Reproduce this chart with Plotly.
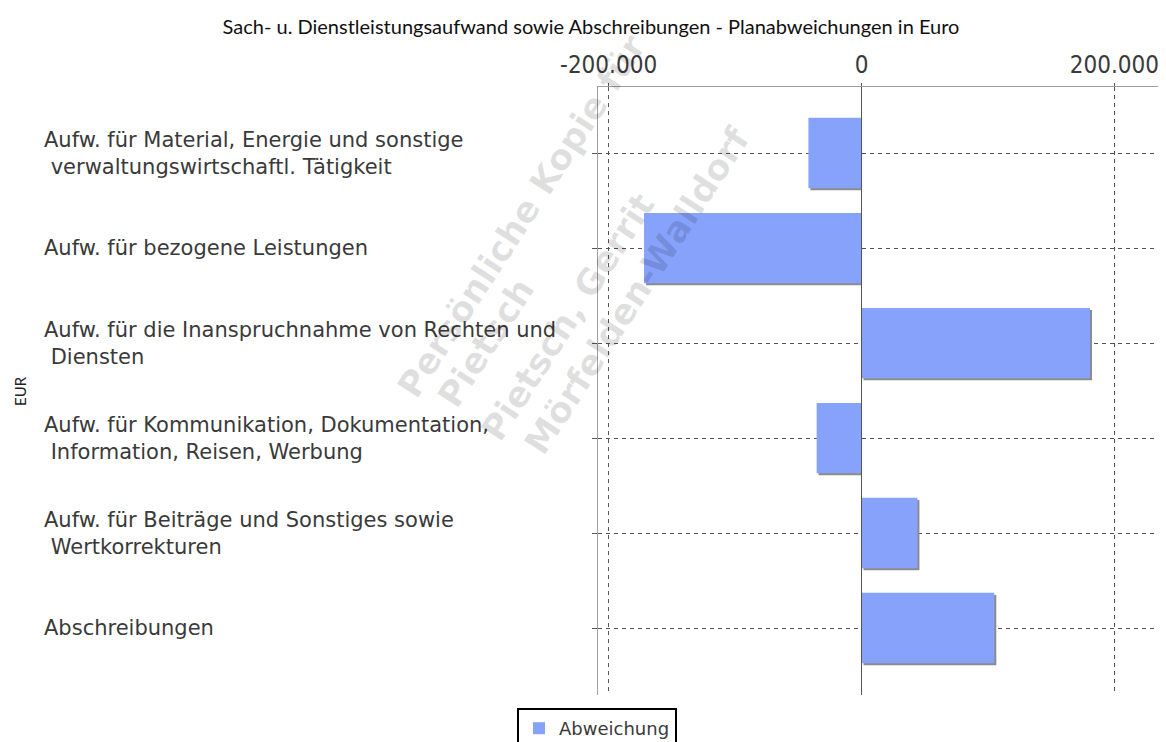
import plotly.graph_objects as go

# ---------------- data ----------------
categories = [
    "Aufw. für Material, Energie und sonstige<br>\u00a0verwaltungswirtschaftl. Tätigkeit",
    "Aufw. für bezogene Leistungen",
    "Aufw. für die Inanspruchnahme von Rechten und<br>\u00a0Diensten",
    "Aufw. für Kommunikation, Dokumentation,<br>\u00a0Information, Reisen, Werbung",
    "Aufw. für Beiträge und Sonstiges sowie<br>\u00a0Wertkorrekturen",
    "Abschreibungen",
]
values = [-42000, -172000, 180700, -35500, 44200, 105000]
tick_vals = [-200000, 0, 200000]
tick_text = ["-200.000", "0", "200.000"]
series_name = "Abweichung"
title_text = "Sach- u. Dienstleistungsaufwand sowie Abschreibungen - Planabweichungen in Euro"
axis_title = "EUR"
watermark_lines = ["Persönliche Kopie für", "Pietsch", "Pietsch, Gerrit", "Mörfelden-Walldorf"]

# ---------------- layout geometry (page pixels -> figure) ----------------
OFF = 8                      # browser body margin
W, H = 1166 - OFF, 742 - OFF
ML, MR = 598 - OFF, 0
MT = 87 - OFF
MB = H - (695 - OFF)
PW, PH = W - ML - MR, H - MT - MB

def px_x(px):
    return (px - OFF - ML) / PW

def px_y(py):
    return (H - MB - (py - OFF)) / PH

FONT = "DejaVu Sans, sans-serif"
TXT = "#3a3a3a"
BAR = "#87a2fb"
SHADOW = "#8c8c8c"

idx = list(range(len(categories)))
bw = 0.74
dy = 0.022
sx = 1600

fig = go.Figure()

# drop shadow
fig.add_trace(go.Bar(
    y=idx,
    x=[v + sx if v < 0 else v for v in values],
    base=[0 if v < 0 else sx for v in values],
    orientation="h",
    width=bw,
    offset=-bw / 2 + dy,
    marker=dict(color=SHADOW, line=dict(width=0)),
    showlegend=False,
    hoverinfo="skip",
))

# main bars
fig.add_trace(go.Bar(
    y=idx,
    x=values,
    orientation="h",
    width=bw,
    offset=-bw / 2,
    name=series_name,
    marker=dict(color=BAR, line=dict(width=0)),
))

# category labels (left aligned)
for i, c in zip(idx, categories):
    fig.add_annotation(
        x=px_x(42), xref="paper", y=i, yref="y",
        text=c, showarrow=False, xanchor="left", yanchor="middle", align="left",
        font=dict(family=FONT, size=21, color=TXT),
    )

# y-axis title
fig.add_annotation(
    x=px_x(20), xref="paper", y=0.5, yref="paper",
    text=axis_title, showarrow=False, textangle=-90,
    xanchor="center", yanchor="middle",
    font=dict(family="Lato, sans-serif", size=15, color="#222"),
)

# watermark
wm_centers = [(522, 216), (486, 343), (568, 317), (637, 291)]
for t, (cx, cy) in zip(watermark_lines, wm_centers):
    fig.add_annotation(
        x=px_x(cx), xref="paper", y=px_y(cy), yref="paper",
        text="<b>" + t + "</b>", showarrow=False, textangle=-57,
        xanchor="center", yanchor="middle",
        font=dict(family="DejaVu Sans, sans-serif", size=35, color="rgba(0,0,0,0.12)"),
    )

# zero line drawn above bars
fig.add_shape(type="line", xref="x", yref="paper", x0=0, x1=0, y0=0, y1=1,
              line=dict(color="#555555", width=1), layer="above")

fig.update_layout(
    width=W, height=H,
    margin=dict(l=ML, r=MR, t=MT, b=MB, pad=0, autoexpand=False),
    paper_bgcolor="white", plot_bgcolor="white",
    barmode="overlay",
    title=dict(text=title_text, x=(591 - OFF) / W, xanchor="center",
               y=1 - (27 - OFF) / H, yanchor="middle",
               font=dict(family="Lato, sans-serif", size=20, color="#111")),
    showlegend=True,
    legend=dict(x=px_x(517), y=px_y(708), xanchor="left", yanchor="top",
                bordercolor="black", borderwidth=2, bgcolor="white",
                font=dict(family=FONT, size=18, color=TXT)),
    xaxis=dict(
        range=[-208400, 240800], side="top",
        tickmode="array", tickvals=tick_vals, ticktext=tick_text,
        tickfont=dict(family="DejaVu Sans Condensed, DejaVu Sans, sans-serif", size=24, color=TXT),
        showgrid=True, gridcolor="#555555", griddash="4px,4px", gridwidth=1,
        zeroline=False, showline=True, linecolor="#a0a0a0", linewidth=1,
        ticks="outside", ticklen=3, tickcolor="#555555",
    ),
    yaxis=dict(
        range=[len(categories) - 1 + 0.705, -0.695],
        tickmode="array", tickvals=idx, showticklabels=False,
        showgrid=True, gridcolor="#555555", griddash="4px,4px", gridwidth=1,
        zeroline=False, showline=True, linecolor="#a0a0a0", linewidth=1,
        ticks="outside", ticklen=5, tickcolor="#555555",
    ),
)

fig.write_html("out.html")
